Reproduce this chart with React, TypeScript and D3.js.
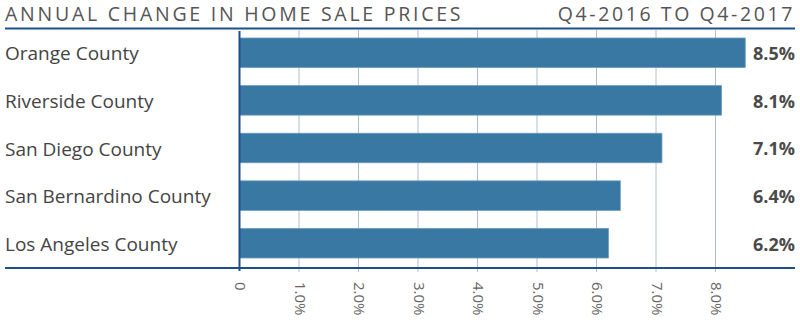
import React from "react";
import * as d3 from "d3";

const categories = ["Orange County", "Riverside County", "San Diego County", "San Bernardino County", "Los Angeles County"];
const values = [8.5, 8.1, 7.1, 6.4, 6.2];
const ticks = [0, 1, 2, 3, 4, 5, 6, 7, 8];
const tickLabels = ["0", "1.0%", "2.0%", "3.0%", "4.0%", "5.0%", "6.0%", "7.0%", "8.0%"];
const title = "ANNUAL CHANGE IN HOME SALE PRICES";
const subtitle = "Q4-2016 TO Q4-2017";

const W = 800, H = 335;
const FONT = "'Open Sans', 'Noto Sans', sans-serif";

export default function App() {
  const x = d3.scaleLinear().domain([0, 9]).range([239.5, 239.5 + 9 * 59.5]);
  const y = d3.scaleBand<string>().domain(categories).range([28, 268]).paddingInner(0.38).paddingOuter(0.21);
  return (
    <svg width={W} height={H} style={{ position: "absolute", left: 0, top: 0 }}>
      <rect width={W} height={H} fill="#fff" />
      <text x={5} y={21} fontFamily={FONT} fontSize={19.5} fill="#555" letterSpacing={2.75}>{title}</text>
      <text x={795} y={21} fontFamily={FONT} fontSize={19.5} fill="#555" letterSpacing={2.6} textAnchor="end">{subtitle}</text>
      <line x1={5} x2={795} y1={28.5} y2={28.5} stroke="#1e4f8c" strokeWidth={2} />
      {ticks.slice(1).map((t) => (
        <line key={t} x1={x(t)} x2={x(t)} y1={30} y2={272} stroke="#aebfd3" strokeWidth={1} />
      ))}
      {categories.map((c, i) => (
        <rect key={c} x={x(0)} y={y(c)} width={x(values[i]) - x(0)} height={y.bandwidth()} fill="#3878a3" stroke="#6a9bc0" strokeWidth={0.8} />
      ))}
      <line x1={x(0)} x2={x(0)} y1={31} y2={271} stroke="#1e4f8c" strokeWidth={2} />
      <line x1={5} x2={795} y1={268} y2={268} stroke="#1e4f8c" strokeWidth={2} />
      {categories.map((c) => (
        <text key={c} x={5} y={(y(c) as number) + y.bandwidth() / 2 + 1} dy="0.35em" fontFamily={FONT} fontSize={19} fill="#444">{c}</text>
      ))}
      {categories.map((c, i) => (
        <text key={c} x={795} y={(y(c) as number) + y.bandwidth() / 2 + 1} dy="0.35em" fontFamily={FONT} fontSize={18} fontWeight={700} fill="#4a4a4a" textAnchor="end">{values[i].toFixed(1) + "%"}</text>
      ))}
      {ticks.map((t, i) => (
        <text key={t} transform={`translate(${x(t) + 1},282) rotate(90)`} dy="0.35em" fontFamily={FONT} fontSize={15} fill="#666">{tickLabels[i]}</text>
      ))}
    </svg>
  );
}
